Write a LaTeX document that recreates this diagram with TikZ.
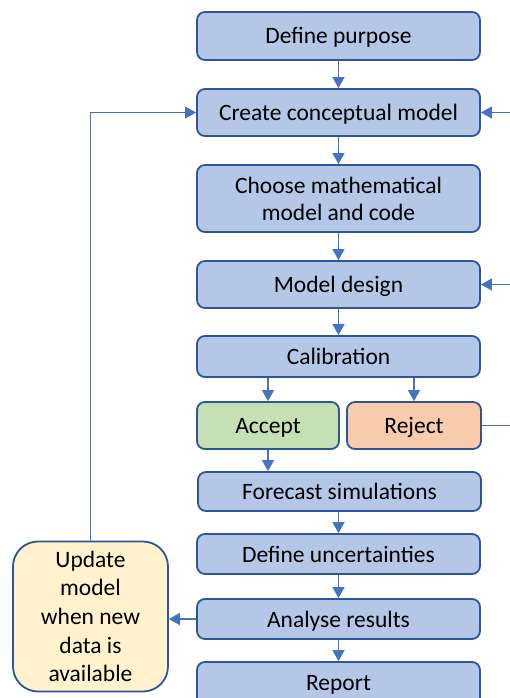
\documentclass[tikz,border=0pt]{standalone}
\usepackage{fontspec}
\setmainfont{Carlito}
\usetikzlibrary{arrows.meta}
\definecolor{boxblue}{HTML}{B4C7E7}
\definecolor{edgeblue}{HTML}{2F5597}
\definecolor{lineblue}{HTML}{4472C4}
\definecolor{acceptgreen}{HTML}{C5E0B4}
\definecolor{rejectorange}{HTML}{F8CBAD}
\definecolor{updateyellow}{HTML}{FFF2CC}
\tikzset{
  stepbox/.style={draw=edgeblue, fill=boxblue, rounded corners=8pt, line width=1.8pt,
    align=center, inner sep=0pt, font=\fontsize{23.5}{27}\selectfont, text=black},
  oneline/.style={text height=18pt, text depth=2pt},
  conn/.style={draw=lineblue, line width=1.2pt, -{Triangle[length=11pt,width=12pt]}},
  plainconn/.style={draw=lineblue, line width=1.2pt},
}
\begin{document}
\begin{tikzpicture}[x=1pt,y=-1pt]
\useasboundingbox (0,0) rectangle (510,698);
\clip (0,0) rectangle (510,698);
\node[stepbox, oneline, minimum width=283pt, minimum height=48pt] (purpose) at (338.5,36) {Define purpose};
\node[stepbox, oneline, minimum width=283pt, minimum height=47pt] (create) at (338.5,112.5) {Create conceptual model};
\node[stepbox, minimum width=283pt, minimum height=67pt] (choose) at (338.5,198.5) {Choose mathematical\\model and code};
\node[stepbox, oneline, minimum width=283pt, minimum height=47pt] (design) at (338.5,284.5) {Model design};
\node[stepbox, oneline, minimum width=283pt, minimum height=41pt] (calib) at (338.5,356.5) {Calibration};
\node[stepbox, oneline, fill=acceptgreen, minimum width=142pt, minimum height=47pt] (accept) at (268,425.5) {Accept};
\node[stepbox, oneline, fill=rejectorange, minimum width=134pt, minimum height=47pt] (reject) at (414,425.5) {Reject};
\node[stepbox, oneline, minimum width=283pt, minimum height=39pt] (forecast) at (339.5,491.5) {Forecast simulations};
\node[stepbox, oneline, minimum width=283pt, minimum height=40pt] (uncert) at (338.5,554) {Define uncertainties};
\node[stepbox, oneline, minimum width=283pt, minimum height=40pt] (analyse) at (338.5,619) {Analyse results};
\node[stepbox, text height=16pt, text depth=8pt, minimum width=283pt, minimum height=48pt] (report) at (338.5,686) {Report};
\node[stepbox, fill=updateyellow, rounded corners=25pt, minimum width=155pt, minimum height=150pt,
  font=\fontsize{23.5}{28.6}\selectfont] (update) at (90.5,616.5) {Update\\model\\when new\\data is\\available};

\coordinate (rin1) at (512,112.5);
\coordinate (rin2) at (512,284.5);
\coordinate (rout) at (512,425.5);
\coordinate (upcorner) at (90.5,112.5);

\draw[conn] (purpose) -- (create);
\draw[conn] (create) -- (choose);
\draw[conn] (choose) -- (design);
\draw[conn] (design) -- (calib);
\draw[conn] (accept.north |- calib.south) -- (accept.north);
\draw[conn] (reject.north |- calib.south) -- (reject.north);
\draw[conn] (accept.south) -- (accept.south |- forecast.north);
\draw[conn] (forecast.south -| uncert.north) -- (uncert.north);
\draw[conn] (uncert) -- (analyse);
\draw[conn] (analyse) -- (report);
\draw[conn] (analyse.west) -- (update.east |- analyse.west);
\draw[conn] (update.north) -- (upcorner) -- (create.west);
\draw[conn] (rin1) -- (create.east);
\draw[conn] (rin2) -- (design.east);
\draw[plainconn] (reject.east) -- (rout);
\end{tikzpicture}
\end{document}
